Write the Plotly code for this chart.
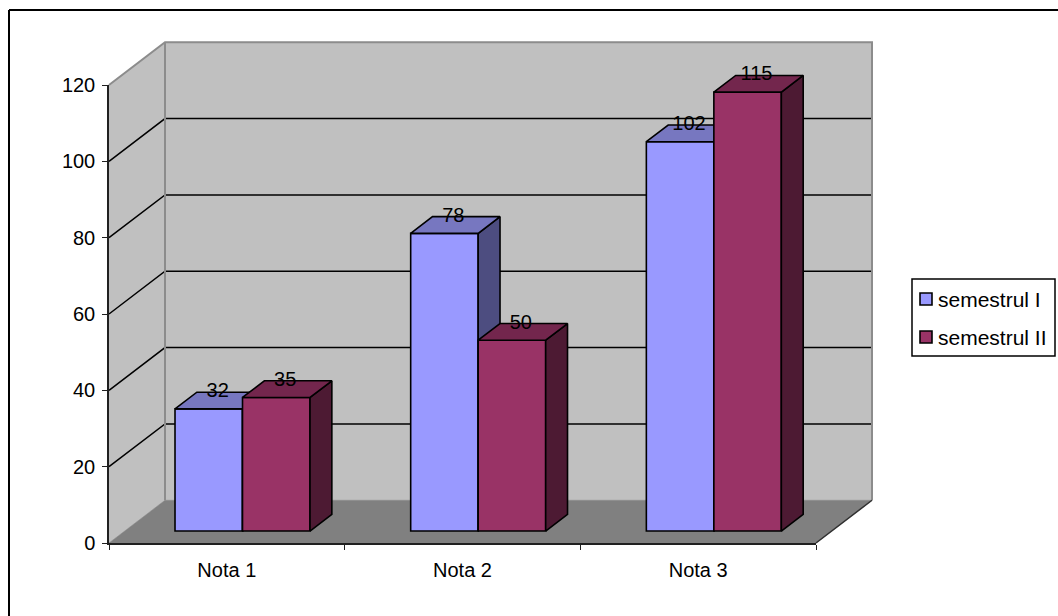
import plotly.graph_objects as go

categories = ["Nota 1", "Nota 2", "Nota 3"]
series_names = ["semestrul I", "semestrul II"]
semestrul_1 = [32, 78, 102]
semestrul_2 = [35, 50, 115]
y_ticks = [0, 20, 40, 60, 80, 100, 120]

W, H = 1058, 616
L, R, T, B = 109, 816, 85, 543
xpos = [0, 1, 2]
xr = [-0.5, 2.5]
yr = [0, 120]
UX = (R - L) / 3        # pixels per category
UY = (B - T) / 120      # pixels per value unit
DX = 56 / UX            # depth shift in category units
DY = 42.75 / UY         # depth shift in value units
BAR_W = 67.5 / UX
D0, D1 = 0.28, 0.67     # bar front / back depth fractions
D_LABEL = 0.44          # depth at which data labels sit
full_x = [xr[0] - L / UX, xr[0] + (W - L) / UX]
full_y = [(B - H) / UY, B / UY]


def pr(x, y, d):
    return x + d * DX, y + d * DY


def poly(pts, fill, line, width, xa, ya):
    xs = [p[0] for p in pts] + [pts[0][0]]
    ys = [p[1] for p in pts] + [pts[0][1]]
    return go.Scatter(x=xs, y=ys, mode="lines", fill="toself", fillcolor=fill,
                      line=dict(color=line, width=width), hoverinfo="skip",
                      showlegend=False, xaxis=xa, yaxis=ya)


def path(pts, color, width, xa="x", ya="y"):
    return go.Scatter(x=[p[0] for p in pts], y=[p[1] for p in pts], mode="lines",
                      line=dict(color=color, width=width), hoverinfo="skip",
                      showlegend=False, xaxis=xa, yaxis=ya)


fig = go.Figure()

# walls and floor
a, b = xr
top = yr[1]
wall = "#C0C0C0"
fig.add_trace(poly([pr(a, 0, 0), pr(a, 0, 1), pr(a, top, 1), pr(a, top, 0)], wall, wall, 0.5, "x", "y"))
fig.add_trace(poly([pr(a, 0, 1), pr(b, 0, 1), pr(b, top, 1), pr(a, top, 1)], wall, wall, 0.5, "x", "y"))
fig.add_trace(poly([pr(a, 0, 0), pr(b, 0, 0), pr(b, 0, 1), pr(a, 0, 1)], "#808080", "#808080", 0.5, "x", "y"))
for v in y_ticks[1:-1]:
    fig.add_trace(path([pr(a, v, 0), pr(a, v, 1), pr(b, v, 1)], "#000000", 1.5))
fig.add_trace(path([pr(a, top, 0), pr(a, top, 1), pr(b, top, 1), pr(b, 0, 1)], "#8C8C8C", 2))
fig.add_trace(path([pr(a, 0, 1), pr(a, top, 1)], "#8C8C8C", 2))
fig.add_trace(path([pr(b, 0, 0), pr(b, 0, 1)], "#303030", 1.5))

# bars
styles = [
    dict(vals=semestrul_1, off=-BAR_W, front="#9999FF", topc="#7777C0", side="#4D4D80", xa="x2", ya="y2"),
    dict(vals=semestrul_2, off=0.0, front="#993366", topc="#73264D", side="#4D1A33", xa="x3", ya="y3"),
]
for name, s in zip(series_names, styles):
    for xc, v in zip(xpos, s["vals"]):
        x0 = xc + s["off"]
        x1 = x0 + BAR_W
        fig.add_trace(poly([pr(x1, 0, D0), pr(x1, 0, D1), pr(x1, v, D1), pr(x1, v, D0)],
                           s["side"], "#000000", 1.6, s["xa"], s["ya"]))
        fig.add_trace(poly([pr(x0, v, D0), pr(x0, v, D1), pr(x1, v, D1), pr(x1, v, D0)],
                           s["topc"], "#000000", 1.6, s["xa"], s["ya"]))
    fig.add_trace(go.Bar(
        x=[xc + s["off"] + BAR_W / 2 + D0 * DX for xc in xpos],
        y=s["vals"], base=[D0 * DY] * 3, width=BAR_W, name=name,
        marker=dict(color=s["front"], line=dict(color="#000000", width=1.6)),
        showlegend=False, hoverinfo="skip", xaxis=s["xa"], yaxis=s["ya"]))

# data labels
for s in styles:
    fig.add_trace(go.Scatter(
        x=[pr(xc + s["off"] + BAR_W / 2, v, D_LABEL)[0] for xc, v in zip(xpos, s["vals"])],
        y=[pr(xc, v, D1)[1] for xc, v in zip(xpos, s["vals"])],
        mode="text", text=[str(v) for v in s["vals"]], textposition="middle center",
        textfont=dict(family="Liberation Sans", size=20, color="#000000"),
        hoverinfo="skip", showlegend=False, xaxis=s["xa"], yaxis=s["ya"]))

# carrier for the visible axes (draws nothing itself)
fig.add_trace(go.Scatter(x=xpos, y=semestrul_1, mode="none", hoverinfo="skip", showlegend=False,
                         xaxis="x4", yaxis="y4"))

hidden = dict(range=full_x, domain=[0, 1], visible=False, fixedrange=True, automargin=False)
hiddeny = dict(range=full_y, domain=[0, 1], visible=False, fixedrange=True, automargin=False)
font = dict(family="Liberation Sans", size=20, color="#000000")


def px(x):
    return x / W


def py(y):
    return 1 - y / H


# frame and legend box
LEG_X0, LEG_X1, LEG_Y0, LEG_Y1 = 912, 1055, 279, 356
shapes = [
    dict(type="line", xref="paper", yref="paper", x0=px(9), x1=px(W), y0=py(10), y1=py(10), line=dict(color="#000", width=2)),
    dict(type="line", xref="paper", yref="paper", x0=px(9), x1=px(9), y0=py(10), y1=py(H), line=dict(color="#000", width=2)),
    dict(type="rect", xref="paper", yref="paper", x0=px(LEG_X0), x1=px(LEG_X1), y0=py(LEG_Y0), y1=py(LEG_Y1),
         line=dict(color="#000", width=1.5), fillcolor="#FFFFFF"),
]
annotations = []
for name, s, yc in zip(series_names, styles, [299, 337]):
    shapes.append(dict(type="rect", xref="paper", yref="paper", x0=px(920), x1=px(932), y0=py(yc - 6), y1=py(yc + 6),
                       fillcolor=s["front"], line=dict(color="#000", width=1.6)))
    annotations.append(dict(text=name, xref="paper", yref="paper", x=px(937), y=py(yc), xanchor="left", yanchor="middle",
                            showarrow=False, borderpad=0, font=dict(family="Liberation Sans", size=21, color="#000")))

fig.update_layout(
    template="none",
    width=W, height=H, autosize=False, margin=dict(l=0, r=0, t=0, b=0, pad=0),
    paper_bgcolor="#FFFFFF", plot_bgcolor="rgba(0,0,0,0)", showlegend=False, barmode="overlay",
    shapes=shapes, annotations=annotations,
    xaxis=dict(hidden, anchor="y"),
    yaxis=dict(hiddeny, anchor="x"),
    xaxis2=dict(hidden, overlaying="x", anchor="y2"),
    yaxis2=dict(hiddeny, overlaying="y", anchor="x2"),
    xaxis3=dict(hidden, overlaying="x", anchor="y3"),
    yaxis3=dict(hiddeny, overlaying="y", anchor="x3"),
    xaxis4=dict(range=xr, domain=[L / W, R / W], anchor="y4", tickmode="array", tickvals=xpos, ticktext=categories,
                ticks="", showgrid=False, zeroline=False, showline=True, linecolor="#202020", linewidth=1.5,
                tickfont=font, ticklabelstandoff=8, fixedrange=True, automargin=False,
                minor=dict(tickmode="array", tickvals=[-0.5, 0.5, 1.5, 2.5], ticks="outside", ticklen=5,
                           tickwidth=1.3, tickcolor="#202020", showgrid=False)),
    yaxis4=dict(range=yr, domain=[1 - B / H, 1 - T / H], anchor="x4", tickmode="array", tickvals=y_ticks,
                ticks="outside", ticklen=5, tickwidth=1.3, tickcolor="#202020", showgrid=False, zeroline=False,
                showline=True, linecolor="#202020", linewidth=1.5, tickfont=font, ticklabelstandoff=3,
                fixedrange=True, automargin=False),
)
fig.write_html("out.html", config=dict(displayModeBar=False),
               post_script="document.body.style.margin='0';document.body.style.overflow='hidden';")
